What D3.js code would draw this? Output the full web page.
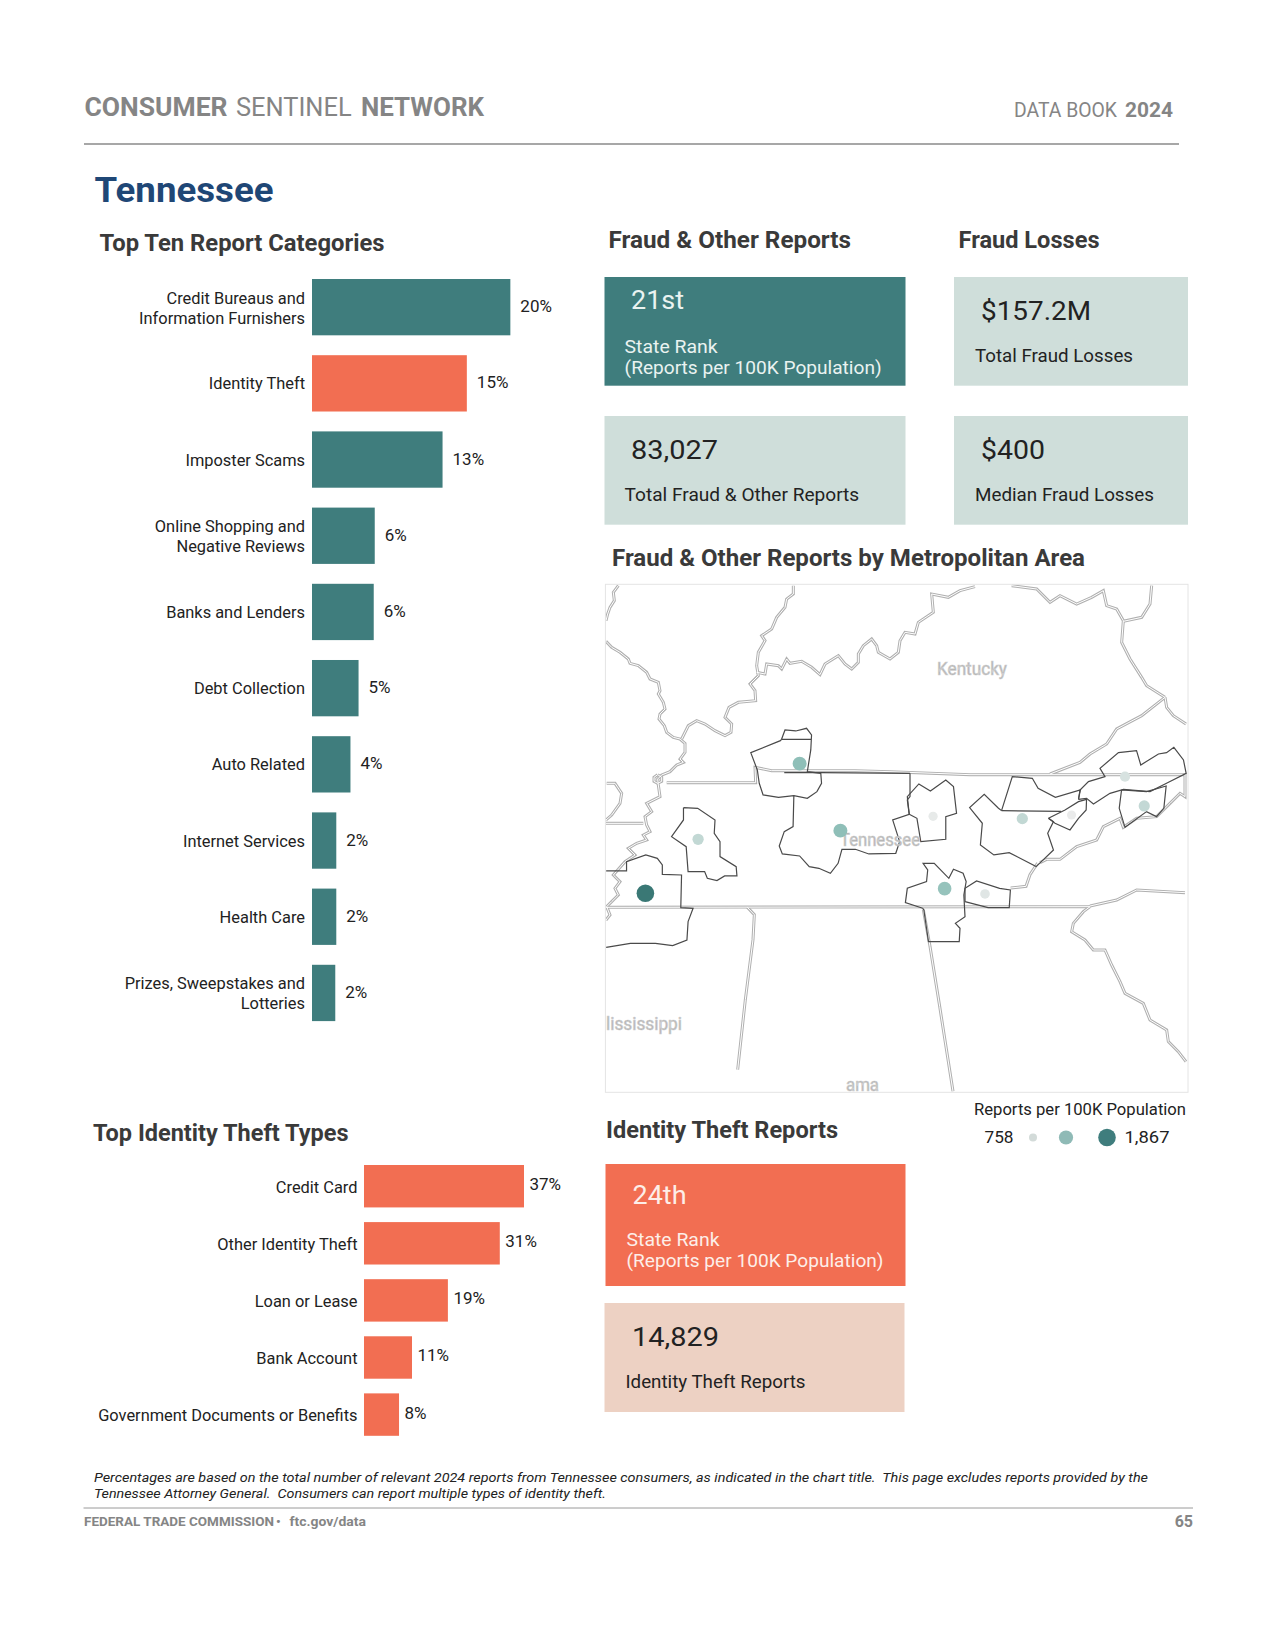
<!DOCTYPE html>
<html>
<head>
<meta charset="utf-8">
<script src="https://cdn.jsdelivr.net/npm/d3@7"></script>
<style>
  html, body { margin: 0; padding: 0; background: #fff; }
  svg { display: block; }
  text { font-family: "Roboto", "Liberation Sans", sans-serif; }
</style>
</head>
<body>
<div id="chart"></div>
<script>
// top ten report categories
const topCategories = [
  ["Credit Bureaus and", "Information Furnishers"], ["Identity Theft"], ["Imposter Scams"],
  ["Online Shopping and", "Negative Reviews"], ["Banks and Lenders"], ["Debt Collection"],
  ["Auto Related"], ["Internet Services"], ["Health Care"],
  ["Prizes, Sweepstakes and", "Lotteries"]
];
const topValues = [19.6, 15.3, 12.9, 6.2, 6.1, 4.6, 3.8, 2.4, 2.4, 2.3];

// identity theft types
const idTheftTypes = ["Credit Card", "Other Identity Theft", "Loan or Lease", "Bank Account", "Government Documents or Benefits"];
const idTheftValues = [37.0, 31.4, 19.4, 11.1, 8.1];

// metro dots, metro units, value = reports per 100K (estimated)
const metroDots = [
  [144, 970, 1867], [545, 581, 1400], [651, 782, 1400], [922, 956, 1350],
  [281, 808, 1050], [1124, 746, 1050], [1441, 708, 1040], [1391, 620, 900],
  [1027, 972, 840], [892, 739, 790], [1252, 735, 770]
];
const legendValues = [758, 1300, 1867];

// state lines, state units (3 per page pixel)
const stateLines = [
  [[40,5],[25,25],[28,50],[15,70],[8,90],[3,110]],
  [[3,172],[20,190],[45,205],[70,225],[75,238],[100,245],[125,265],[135,285],[160,295],[165,320],[160,330],[175,355],[180,375],[165,390],[162,405],[178,425],[185,445],[205,460],[225,465],[240,478],[240,505],[225,525],[235,535],[215,543],[195,563],[170,573],[158,585],[160,603],[165,638],[125,658],[140,683],[120,698],[125,723],[135,743],[115,753],[125,768],[95,778],[70,793],[90,813],[60,833],[25,873],[45,893],[30,913],[40,933],[20,953],[5,968],[15,993],[3,1008]],
  [[158,572],[170,580],[170,592],[158,598],[147,592],[147,580],[158,572]],
  [[230,465],[250,425],[275,410],[300,420],[330,440],[360,455],[378,445],[380,420],[360,400],[372,370],[400,355],[452,350],[450,320],[435,300],[460,275],[455,245],[460,205],[480,170],[470,155],[500,135],[515,100],[540,70],[545,45],[565,30],[565,5]],
  [[455,265],[480,270],[485,240],[520,245],[530,255],[545,225],[555,238],[590,232],[620,250],[645,272],[660,240],[700,215],[720,240],[740,255],[760,235],[760,210],[775,185],[800,165],[815,185],[820,205],[855,225],[880,205],[885,170],[900,145],[930,150],[940,115],[985,85],[980,30],[1030,40],[1065,20],[1110,8]],
  [[1220,5],[1295,15],[1335,55],[1365,35],[1415,60],[1460,40],[1495,20],[1505,65],[1535,75],[1555,110],[1550,175],[1575,225],[1610,280],[1625,305],[1680,340]],
  [[1640,5],[1635,60],[1610,100],[1555,112]],
  [[1680,340],[1685,370],[1705,395],[1743,420]],
  [[1680,340],[1610,395],[1535,435],[1505,480],[1455,510],[1425,535],[1335,570]],
  [[185,596],[452,596],[450,550],[500,560],[750,560],[855,563],[1095,572],[1335,572],[1743,572]],
  [[5,598],[30,598],[50,628],[45,658],[20,693],[3,708]],
  [[3,718],[115,718]],
  [[3,970],[1455,968]],
  [[1455,966],[1535,948],[1595,918],[1740,926]],
  [[1455,968],[1435,983],[1405,1018],[1400,1043],[1440,1068],[1465,1098],[1500,1098],[1520,1143],[1545,1193],[1560,1228],[1615,1258],[1635,1308],[1685,1338],[1690,1373],[1720,1403],[1743,1433]],
  [[427,970],[448,992],[444,1067],[421,1247],[398,1457]],
  [[955,977],[975,1087],[1004,1267],[1044,1522]],
  [[1298,837],[1275,872],[1263,907],[1217,912]],
  [[1305,836],[1325,826],[1365,826],[1415,788],[1475,768],[1495,728],[1545,703],[1555,730],[1595,703],[1655,698],[1695,658],[1725,628],[1740,638],[1740,568]]
];

// metro area outlines, metro units
const metroLines = [
  [[498,508],[507,480],[535,483],[563,475],[576,495],[574,540],[565,605],[600,610],[602,640],[590,665],[565,685],[530,677],[490,682],[450,675],[440,640],[435,600],[418,548],[495,512],[498,508],[574,508]],
  [[505,608],[600,608],[832,610]],
  [[530,677],[528,770],[505,785],[492,828],[500,852],[545,858],[570,890],[595,895],[625,910],[645,880],[655,838],[690,838],[725,852],[795,850],[805,815],[787,750],[830,733],[825,690],[832,680],[832,610]],
  [[830,733],[825,680],[855,642],[885,663],[925,630],[945,650],[953,730],[925,740],[925,808],[860,815],[850,745],[830,733]],
  [[243,713],[280,715],[325,750],[323,790],[338,815],[338,860],[380,890],[382,918],[350,918],[330,932],[305,925],[298,905],[255,905],[250,830],[212,800],[243,750],[243,713]],
  [[42,903],[95,903],[95,875],[145,855],[175,865],[188,885],[188,913],[238,915],[236,1013],[268,1015],[255,1055],[252,1110],[215,1127],[170,1120],[105,1120],[42,1132]],
  [[1070,722],[1098,620],[1150,625],[1165,655],[1210,682],[1275,660],[1270,688]],
  [[1070,722],[1225,724]],
  [[1070,722],[1062,715],[1025,673],[987,713],[1020,760],[1015,825],[1050,855],[1090,848],[1160,890],[1205,840],[1190,790],[1205,755],[1192,745]],
  [[1192,745],[1235,720],[1270,695],[1291,688],[1290,720],[1270,745],[1248,780],[1209,760],[1192,745]],
  [[1270,688],[1274,660],[1296,635],[1339,620],[1326,595],[1374,548],[1421,542],[1432,585],[1478,552],[1499,548],[1518,532],[1543,570],[1550,610],[1499,640],[1456,665],[1387,658],[1352,670],[1309,702],[1291,685],[1270,688]],
  [[1382,660],[1447,665],[1498,648],[1492,715],[1473,740],[1447,725],[1391,772],[1376,715],[1382,660]],
  [[865,1015],[820,998],[825,955],[875,935],[878,900],[866,880],[895,880],[933,925],[945,898],[970,910],[978,935],[972,975],[975,1040],[950,1060],[962,1075],[960,1115],[880,1115],[868,1020],[865,1015]],
  [[975,995],[975,955],[1005,933],[1065,955],[1093,960],[1090,1013],[1035,1013],[975,995]]
];

const teal = "#3f7d7d", coral = "#f26e52", paleTeal = "#cfdeda", paleCoral = "#edd1c3";
const titleCol = "#3a3a3a", textCol = "#222", grayCol = "#858585";

const svg = d3.select("#chart").append("svg").attr("width", 1275).attr("height", 1650);

// text helper, w squeezes the string to the width it has on the page
function put(x, y, str, o = {}) {
  const t = svg.append("text").attr("x", x).attr("y", y).text(str)
    .attr("font-size", o.size || 16.4)
    .attr("font-weight", o.weight || 400)
    .attr("fill", o.fill || textCol)
    .attr("text-anchor", o.anchor || "start");
  if (o.italic) t.attr("font-style", "italic");
  if (o.w) t.attr("textLength", o.w).attr("lengthAdjust", "spacingAndGlyphs");
  return t;
}

// header
put(84.5, 116, "CONSUMER", { size: 25, weight: 700, fill: grayCol, w: 143 });
put(236, 116, "SENTINEL", { size: 25, fill: grayCol, w: 115.6 });
put(361, 116, "NETWORK", { size: 25, weight: 700, fill: grayCol, w: 123 });
put(1014, 116.5, "DATA BOOK", { size: 20, fill: grayCol, w: 103 });
put(1125, 116.5, "2024", { size: 20, weight: 700, fill: grayCol, w: 48 });
svg.append("line").attr("x1", 84).attr("x2", 1179).attr("y1", 144).attr("y2", 144)
  .attr("stroke", "#8a8a8a").attr("stroke-width", 1.5);

put(94.5, 201.5, "Tennessee", { size: 35, weight: 700, fill: "#1f4776", w: 179 });

// section titles
put(99.5, 251, "Top Ten Report Categories", { size: 23, weight: 700, fill: titleCol, w: 285 });
put(608.5, 248, "Fraud & Other Reports", { size: 23, weight: 700, fill: titleCol, w: 242.5 });
put(958.5, 248, "Fraud Losses", { size: 23, weight: 700, fill: titleCol, w: 141 });
put(612, 566, "Fraud & Other Reports by Metropolitan Area", { size: 23, weight: 700, fill: titleCol, w: 473 });
put(93, 1141, "Top Identity Theft Types", { size: 23, weight: 700, fill: titleCol, w: 255.5 });
put(606, 1138, "Identity Theft Reports", { size: 23, weight: 700, fill: titleCol, w: 232 });

// top ten bars
const x1 = d3.scaleLinear().domain([0, 20]).range([312, 514.4]);
const y1 = d3.scaleBand().domain(d3.range(topValues.length)).range([279, 1021.1]).paddingInner(0.261);

svg.append("g").selectAll("rect").data(topValues).join("rect")
  .attr("x", x1(0)).attr("y", (d, i) => y1(i))
  .attr("width", d => x1(d) - x1(0)).attr("height", y1.bandwidth())
  .attr("fill", (d, i) => i === 1 ? coral : teal);

topValues.forEach((d, i) => {
  const cy = y1(i) + y1.bandwidth() / 2;
  const lines = topCategories[i];
  lines.forEach((s, j) => {
    const base = lines.length === 2 ? cy - 3.5 + j * 20 : cy + 6;
    put(305, base, s, { anchor: "end" });
  });
  put(x1(d) + 10, cy + 5, Math.round(d) + "%", { size: 17 });
});

// identity theft bars
const x2 = d3.scaleLinear().domain([0, 37]).range([364, 524]);
const y2 = d3.scaleBand().domain(d3.range(idTheftValues.length)).range([1165, 1435.8]).paddingInner(0.257);

svg.append("g").selectAll("rect").data(idTheftValues).join("rect")
  .attr("x", x2(0)).attr("y", (d, i) => y2(i))
  .attr("width", d => x2(d) - x2(0)).attr("height", y2.bandwidth())
  .attr("fill", coral);

idTheftValues.forEach((d, i) => {
  const cy = y2(i) + y2.bandwidth() / 2;
  put(357.5, cy + 6.5, idTheftTypes[i], { anchor: "end" });
  put(x2(d) + 5.5, cy + 4, Math.round(d) + "%", { size: 17 });
});

// stat cards
function card(x, y, w, h, fill) {
  svg.append("rect").attr("x", x).attr("y", y).attr("width", w).attr("height", h).attr("fill", fill);
}
const onTeal = "#eaf3f1";
card(604.5, 277, 301, 108.7, teal);
put(631, 308.5, "21st", { size: 26, fill: onTeal, w: 53 });
put(624.6, 352.7, "State Rank", { size: 18.5, fill: onTeal, w: 93 });
put(624.6, 374, "(Reports per 100K Population)", { size: 18.5, fill: onTeal, w: 257 });

card(604.5, 416, 301, 108.7, paleTeal);
put(631, 458.5, "83,027", { size: 26, w: 87 });
put(624.6, 501, "Total Fraud & Other Reports", { size: 18.5, w: 234.6 });

card(954, 277, 234, 108.7, paleTeal);
put(981, 320, "$157.2M", { size: 26, w: 110 });
put(975, 362.3, "Total Fraud Losses", { size: 18.5, w: 158 });

card(954, 416, 234, 108.7, paleTeal);
put(981, 458.5, "$400", { size: 26, w: 64 });
put(975, 501, "Median Fraud Losses", { size: 18.5, w: 179 });

card(605.5, 1164, 300, 122, coral);
put(632.5, 1203.5, "24th", { size: 26, fill: "#fdeee9", w: 54 });
put(626.5, 1245.5, "State Rank", { size: 18.5, fill: "#fdeee9", w: 93 });
put(626.5, 1267, "(Reports per 100K Population)", { size: 18.5, fill: "#fdeee9", w: 257 });

card(604.5, 1303, 300, 109, paleCoral);
put(632, 1346, "14,829", { size: 26, w: 87 });
put(625.5, 1388, "Identity Theft Reports", { size: 18.5, w: 180 });

// map, metro shapes and state lines came from different crops so each has its own units
const mx = d3.scaleLinear().domain([40, 1560]).range([605.4, 1190]);
const my = d3.scaleLinear().domain([43, 1567]).range([584.3, 1092.3]);
const sx = d3.scaleLinear().domain([0, 1749]).range([605, 1188]);
const sy = d3.scaleLinear().domain([0, 1524]).range([584, 1092]);
const metroLine = d3.line().x(d => mx(d[0])).y(d => my(d[1]));
const stateLine = d3.line().x(d => sx(d[0])).y(d => sy(d[1]));

svg.append("clipPath").attr("id", "mapClip").append("rect")
  .attr("x", 605.4).attr("y", 584.3).attr("width", 582.6).attr("height", 508);
const map = svg.append("g").attr("clip-path", "url(#mapClip)");

// state lines look doubled, grey with a white core
map.append("g").selectAll("path").data(stateLines).join("path")
  .attr("d", stateLine).attr("fill", "none").attr("stroke", "#b0b0b0").attr("stroke-width", 3);
map.append("g").selectAll("path").data(stateLines).join("path")
  .attr("d", stateLine).attr("fill", "none").attr("stroke", "#fff").attr("stroke-width", 1);

map.append("g").selectAll("path").data(metroLines).join("path")
  .attr("d", metroLine).attr("fill", "none").attr("stroke", "#4a4a4a").attr("stroke-width", 1.2);

const mapLabel = { size: 18, fill: "#adadad" };
[[937, 675, "Kentucky", 70], [840, 846, "Tennessee", 80], [606, 1030, "lississippi", 76], [846, 1090.5, "ama", 33]]
  .forEach(l => put(l[0], l[1], l[2], { ...mapLabel, w: l[3] }).attr("stroke", "#cfcfcf").attr("stroke-width", 0.7));

const r = d3.scaleLinear().domain([758, 1867]).range([4.5, 8.8]);
const col = d3.scaleLinear().domain([758, 1400, 1867]).range(["#ececec", "#8fbfb8", "#3a7875"]);

svg.append("g").selectAll("circle").data(metroDots).join("circle")
  .attr("cx", d => mx(d[0])).attr("cy", d => my(d[1]))
  .attr("r", d => r(d[2])).attr("fill", d => col(d[2]));

svg.append("rect").attr("x", 605.4).attr("y", 584.3).attr("width", 582.6).attr("height", 508)
  .attr("fill", "none").attr("stroke", "#e4e4e4");

// dot legend
put(974, 1115, "Reports per 100K Population", { size: 16, w: 212 });
put(984.5, 1143, "758", { size: 16.5, w: 29 });
put(1124.5, 1143, "1,867", { size: 16.5, w: 45 });
const legendX = d3.scaleOrdinal().domain(legendValues).range([1033, 1066, 1107]);
const legendCol = d3.scaleOrdinal().domain(legendValues).range(["#d3dbd9", "#8fbab6", teal]);
svg.append("g").selectAll("circle").data(legendValues).join("circle")
  .attr("cx", d => legendX(d)).attr("cy", 1137.5)
  .attr("r", d => d === 758 ? 4 : r(d) + (d === 1300 ? 0.5 : 0)).attr("fill", d => legendCol(d));

// footer
put(94, 1481.5, "Percentages are based on the total number of relevant 2024 reports from Tennessee consumers, as indicated in the chart title.  This page excludes reports provided by the", { size: 13.5, italic: true, w: 1054 })
  .style("white-space", "pre");
put(94, 1498, "Tennessee Attorney General.  Consumers can report multiple types of identity theft.", { size: 13.5, italic: true, w: 512 })
  .style("white-space", "pre");
svg.append("line").attr("x1", 83.5).attr("x2", 1193).attr("y1", 1508).attr("y2", 1508)
  .attr("stroke", "#9a9a9a").attr("stroke-width", 1);
put(84, 1526, "FEDERAL TRADE COMMISSION", { size: 13, weight: 700, fill: grayCol, w: 190 });
put(276, 1526, "•", { size: 13, weight: 700, fill: grayCol });
put(289.6, 1526, "ftc.gov/data", { size: 13, weight: 700, fill: grayCol, w: 76.4 });
put(1193, 1527, "65", { size: 16, weight: 700, fill: grayCol, anchor: "end" });
</script>
</body>
</html>
